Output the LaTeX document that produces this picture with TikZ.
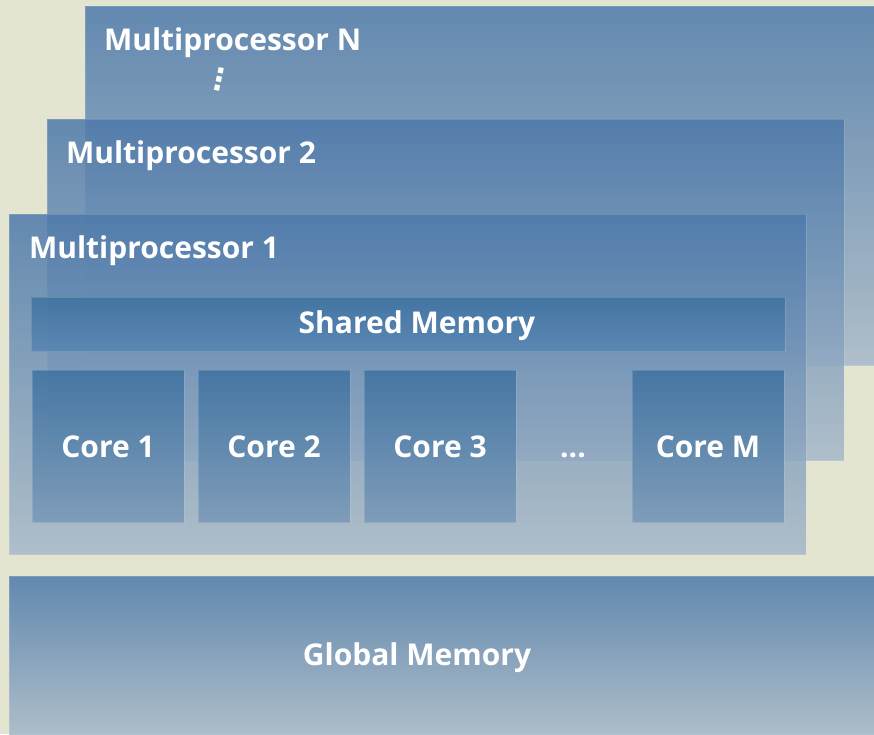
\documentclass[tikz,border=0pt]{standalone}
\usepackage{fontspec}
\newfontfamily\labfont{Open Sans}
\newfontfamily\symfont{DejaVu Sans}
\definecolor{bgbeige}{HTML}{E3E5D0}
\definecolor{mpTop}{HTML}{4D79AA}
\definecolor{mpBot}{HTML}{A6B8C9}
\definecolor{coreTop}{HTML}{3D71A0}
\definecolor{coreBot}{HTML}{7898B7}
\definecolor{shBot}{HTML}{5886B2}
\tikzset{
  box/.style={rectangle, inner sep=0pt, outer sep=0pt, anchor=north west,
    fill opacity=0.85, draw=white, draw opacity=0.15, line width=0.6pt},
  mpbox/.style={box, top color=mpTop, bottom color=mpBot},
  corebox/.style={box, top color=coreTop, bottom color=coreBot,
    minimum width=152pt, minimum height=152pt},
  shbox/.style={box, top color=coreTop, bottom color=shBot},
  lab/.style={text=white, inner sep=0pt, outer sep=0pt,
    font=\labfont\bfseries\fontsize{30}{33}\selectfont}
}
\begin{document}
\begin{tikzpicture}[x=1pt,y=-1pt]
\useasboundingbox (0,0) rectangle (874,734);
\fill[bgbeige] (0,0) rectangle (874,734);
\clip (0,0) rectangle (874,734);
% multiprocessor boxes
\node[mpbox, minimum width=800pt, minimum height=359pt] (mpN) at (85,6) {};
\node[mpbox, minimum width=797pt, minimum height=341pt] (mp2) at (47,119) {};
\node[mpbox, minimum width=797pt, minimum height=340pt] (mp1) at (9,214) {};
% shared memory
\node[shbox, minimum width=754pt, minimum height=54pt] (shared) at (31,297) {};
% cores
\node[corebox] (c1) at (32,370) {};
\node[corebox] (c2) at (198,370) {};
\node[corebox] (c3) at (364,370) {};
\node[corebox] (cM) at (632,370) {};
% global memory
\node[mpbox, minimum width=880pt, minimum height=162pt] (glob) at (9,576) {};
% labels
\node[lab, anchor=base west] (tN) at (104,50) {Multiprocessor N};
\node[text=white, inner sep=0pt, rotate=-12, font=\symfont\bfseries\fontsize{30}{32}\selectfont] (vd) at (219,79) {⋮};
\node[lab, anchor=base west] (t2) at (66,163) {Multiprocessor 2};
\node[lab, anchor=base west] (t1) at (29,258) {Multiprocessor 1};
\node[lab, anchor=base] (tS) at (417,333) {Shared Memory};
\node[lab, anchor=base] (tc1) at (c1.center |- 0,457) {Core 1};
\node[lab, anchor=base] (tc2) at (c2.center |- 0,457) {Core 2};
\node[lab, anchor=base] (tc3) at (c3.center |- 0,457) {Core 3};
\node[lab, anchor=base] (tdots) at (573,457) {...};
\node[lab, anchor=base] (tcM) at (cM.center |- 0,457) {Core M};
\node[lab, anchor=base] (tG) at (417,665) {Global Memory};
\end{tikzpicture}
\end{document}
